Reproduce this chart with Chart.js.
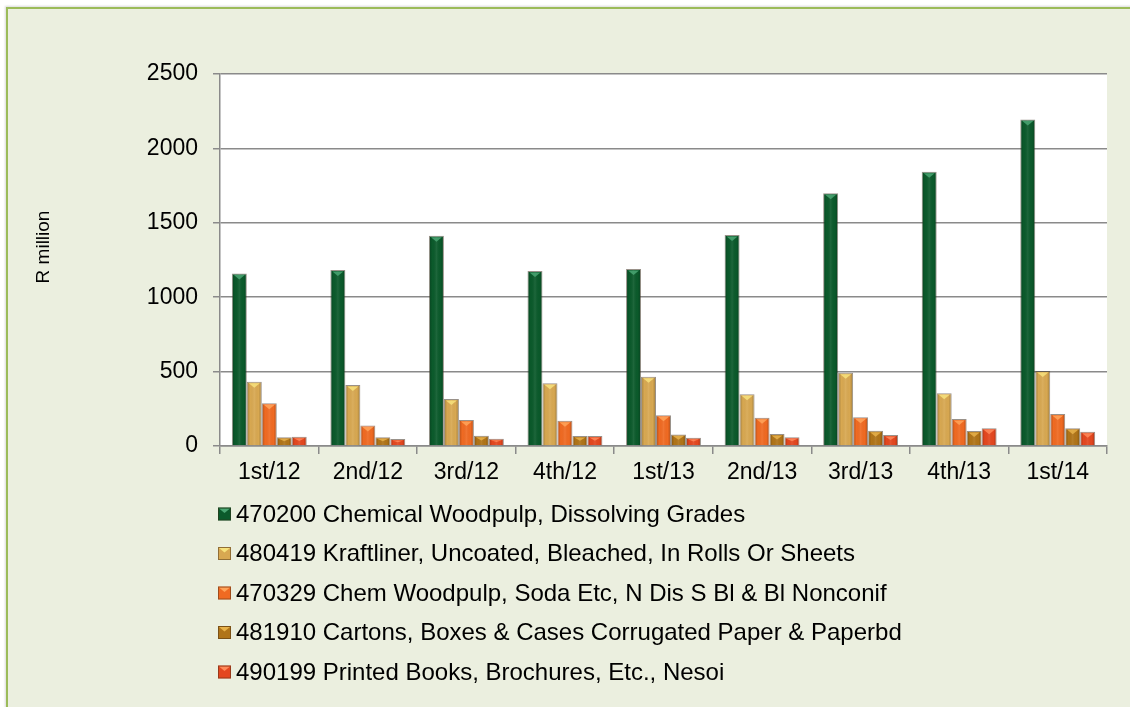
<!DOCTYPE html>
<html>
<head>
<meta charset="utf-8">
<title>Paper and pulp exports</title>
<script src="https://cdn.jsdelivr.net/npm/chart.js@4.4.0/dist/chart.umd.min.js"></script>
<style>
    html, body { margin: 0; padding: 0; background: #ffffff; overflow: hidden; }
    #frame {
        position: absolute; left: 6px; top: 7px; width: 1200px; height: 800px;
        background: #ebefdf;
        border-left: 2px solid #9bbb59; border-top: 2px solid #9bbb59;
        box-shadow: -1px -1px 2px rgba(0,0,0,0.15);
    }
    #wrap { position: absolute; left: 0; top: 0; width: 1130px; height: 707px; }
</style>
</head>
<body>
<div id="frame"></div>
<div id="wrap"><canvas id="barChart" width="1130" height="707"></canvas></div>
<script>
// Квартальные данные, R million
const quarters = ['1st/12', '2nd/12', '3rd/12', '4th/12', '1st/13', '2nd/13', '3rd/13', '4th/13', '1st/14'];
const dissolving = [1160, 1183, 1413, 1176, 1190, 1418, 1698, 1843, 2195];
const kraftliner = [432, 410, 316, 421, 466, 347, 493, 354, 504];
const chemSoda = [287, 137, 175, 170, 206, 190, 193, 181, 215];
const cartons = [58, 58, 69, 67, 78, 81, 103, 101, 119];
const printed = [62, 47, 49, 67, 56, 58, 74, 119, 96];

const seriesNames = [
    '470200 Chemical Woodpulp, Dissolving Grades',
    '480419 Kraftliner, Uncoated, Bleached, In Rolls Or Sheets',
    '470329 Chem Woodpulp, Soda Etc, N Dis S Bl & Bl Nonconif',
    '481910 Cartons, Boxes & Cases Corrugated Paper & Paperbd',
    '490199 Printed Books, Brochures, Etc., Nesoi'
];
const seriesValues = [dissolving, kraftliner, chemSoda, cartons, printed];
const colors = ['#0b5a2b', '#d8a851', '#f06a22', '#b07418', '#e4471f'];
const highlights = ['#4aa673', '#f7e27c', '#ffa45a', '#e8b24a', '#ff8a5a'];

const FONT = 'Arial, "Liberation Sans", sans-serif';
const AXIS_GRAY = '#8a8a8a';

// Белый фон области построения
const plotBackground = {
    id: 'plotBackground',
    beforeDraw(chart) {
        const { ctx, chartArea: a } = chart;
        ctx.save();
        ctx.fillStyle = '#ffffff';
        ctx.fillRect(a.left, a.top, a.right - a.left, a.bottom - a.top);
        ctx.restore();
    }
};

// Объемная подсветка столбцов: боковые тени и треугольник сверху
const bevelBars = {
    id: 'bevelBars',
    afterDatasetsDraw(chart) {
        const ctx = chart.ctx;
        chart.data.datasets.forEach((ds, i) => {
            const meta = chart.getDatasetMeta(i);
            meta.data.forEach(bar => {
                const { x, y, base, width } = bar.getProps(['x', 'y', 'base', 'width'], true);
                const l = x - width / 2, r = x + width / 2;
                const g = ctx.createLinearGradient(l, 0, r, 0);
                g.addColorStop(0, 'rgba(0,0,0,0.28)');
                g.addColorStop(0.22, 'rgba(0,0,0,0)');
                g.addColorStop(0.5, 'rgba(255,255,255,0.08)');
                g.addColorStop(0.78, 'rgba(0,0,0,0)');
                g.addColorStop(1, 'rgba(0,0,0,0.28)');
                ctx.save();
                ctx.fillStyle = g;
                ctx.fillRect(l + 1, y + 1, width - 2, base - y - 1);
                ctx.beginPath();
                ctx.moveTo(l + 2, y + 1.5);
                ctx.lineTo(r - 2, y + 1.5);
                ctx.lineTo(x, y + Math.min(6, (base - y) / 2));
                ctx.closePath();
                ctx.fillStyle = highlights[i];
                ctx.globalAlpha = 0.85;
                ctx.fill();
                ctx.restore();
            });
        });
    }
};

// Подпись оси Y
const yTitle = {
    id: 'yTitle',
    afterDraw(chart) {
        const ctx = chart.ctx;
        ctx.save();
        ctx.translate(44, 247);
        ctx.rotate(-Math.PI / 2);
        ctx.font = '19px ' + FONT;
        ctx.fillStyle = '#000000';
        ctx.textAlign = 'center';
        ctx.textBaseline = 'middle';
        ctx.fillText('R million', 0, 0);
        ctx.restore();
    }
};

// Легенда в один столбец под осью X
const columnLegend = {
    id: 'columnLegend',
    afterDraw(chart) {
        const ctx = chart.ctx;
        const top = chart.chartArea.bottom + 68;
        ctx.save();
        ctx.font = '24px ' + FONT;
        ctx.textBaseline = 'middle';
        chart.data.datasets.forEach((ds, i) => {
            const cy = top + i * 39.5;
            ctx.fillStyle = ds.backgroundColor;
            ctx.fillRect(218, cy - 6.5, 13, 13);
            ctx.fillStyle = highlights[i];
            ctx.beginPath();
            ctx.moveTo(219, cy - 5.5);
            ctx.lineTo(230, cy - 5.5);
            ctx.lineTo(224.5, cy - 1);
            ctx.closePath();
            ctx.fill();
            ctx.strokeStyle = 'rgba(60,40,20,0.45)';
            ctx.lineWidth = 1;
            ctx.strokeRect(218.5, cy - 6, 12, 12);
            ctx.fillStyle = '#000000';
            ctx.fillText(ds.label, 236, cy + 1);
        });
        ctx.restore();
    }
};

document.addEventListener('DOMContentLoaded', function () {
    const ctx = document.getElementById('barChart').getContext('2d');

    new Chart(ctx, {
        type: 'bar',
        data: {
            labels: quarters,
            datasets: seriesValues.map((vals, i) => ({
                label: seriesNames[i],
                data: vals,
                backgroundColor: colors[i],
                borderColor: 'rgba(70,55,40,0.55)',
                borderWidth: 1,
                barPercentage: 1,
                categoryPercentage: 0.76
            }))
        },
        options: {
            responsive: false,
            animation: false,
            layout: { padding: { left: 0, top: 74, right: 23, bottom: 211 } },
            plugins: {
                legend: { display: false },
                tooltip: { enabled: false }
            },
            scales: {
                x: {
                    offset: true,
                    grid: { drawOnChartArea: false, drawTicks: true, tickLength: 8, color: AXIS_GRAY, lineWidth: 1.5, offset: true },
                    border: { color: AXIS_GRAY, width: 1.5 },
                    ticks: { font: { family: FONT, size: 23 }, color: '#000000', padding: 5, maxRotation: 0 },
                    afterFit: s => { s.height = 50; }
                },
                y: {
                    min: 0,
                    max: 2500,
                    grid: { color: AXIS_GRAY, lineWidth: 1.5, tickLength: 7 },
                    border: { color: AXIS_GRAY, width: 1.5 },
                    ticks: {
                        stepSize: 500,
                        font: { family: FONT, size: 23 },
                        color: '#000000',
                        padding: 15,
                        callback: v => String(v)
                    },
                    afterFit: s => { s.width = 220; }
                }
            }
        },
        plugins: [plotBackground, bevelBars, yTitle, columnLegend]
    });
});
</script>
</body>
</html>
